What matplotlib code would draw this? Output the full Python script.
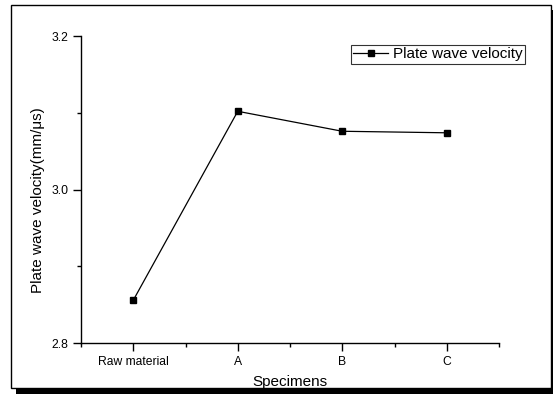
import matplotlib
matplotlib.use("Agg")
import matplotlib.pyplot as plt
from matplotlib.patches import Rectangle

plt.rcParams['font.family'] = ['Liberation Sans', 'DejaVu Sans']

specimens = ["Raw material", "A", "B", "C"]
velocity = [2.856, 3.102, 3.076, 3.074]

fig = plt.figure(figsize=(5.53, 3.94), dpi=100)

# frame around the whole figure with a shadow
fig.patches.append(Rectangle((16 / 553, 0), 537 / 553, 384 / 394, transform=fig.transFigure,
                             facecolor="black", edgecolor="none", zorder=-2))
fig.patches.append(Rectangle((11 / 553, 6 / 394), 540 / 553, 383 / 394, transform=fig.transFigure,
                             facecolor="white", edgecolor="black", linewidth=1.0, zorder=-1))

ax = fig.add_axes([81 / 553, 50.7 / 394, 418 / 553, 307.3 / 394])
ax.set_zorder(2)
ax.patch.set_alpha(0)
x = list(range(len(specimens)))
ax.plot(x, velocity, color="black", linewidth=0.9, marker="s", markersize=5,
        label="Plate wave velocity")

ax.set_xlim(-0.5, 3.5)
ax.set_ylim(2.8, 3.2)
ax.set_xticks(x)
ax.set_xticklabels(specimens)
ax.set_xticks([-0.5, 0.5, 1.5, 2.5, 3.5], minor=True)
ax.set_yticks([2.8, 3.0, 3.2])
ax.set_yticklabels(["2.8", "3.0", "3.2"])
ax.set_yticks([2.9, 3.1], minor=True)
ax.tick_params(which="major", direction="out", length=6, width=1, labelsize=8.75, pad=3)
ax.tick_params(which="minor", direction="out", length=3, width=1)

for s in ["top", "right"]:
    ax.spines[s].set_visible(False)
for s in ["left", "bottom"]:
    ax.spines[s].set_linewidth(1.0)

ax.set_xlabel("Specimens", fontsize=11, va="center")
ax.xaxis.set_label_coords(0.5, -0.125)
ax.set_ylabel("Plate wave velocity(mm/\u03bcs)", fontsize=11, va="center")
ax.yaxis.set_label_coords(-0.104, 0.465)

leg = ax.legend(loc="upper left", bbox_to_anchor=(270 / 418, 1 - 9 / 307.3), fontsize=11,
                frameon=True, fancybox=False, edgecolor="black", handlelength=2.3,
                handletextpad=0.33, borderpad=0.15, borderaxespad=0)
leg.get_frame().set_linewidth(0.8)

fig.savefig("out.png", dpi=100)
